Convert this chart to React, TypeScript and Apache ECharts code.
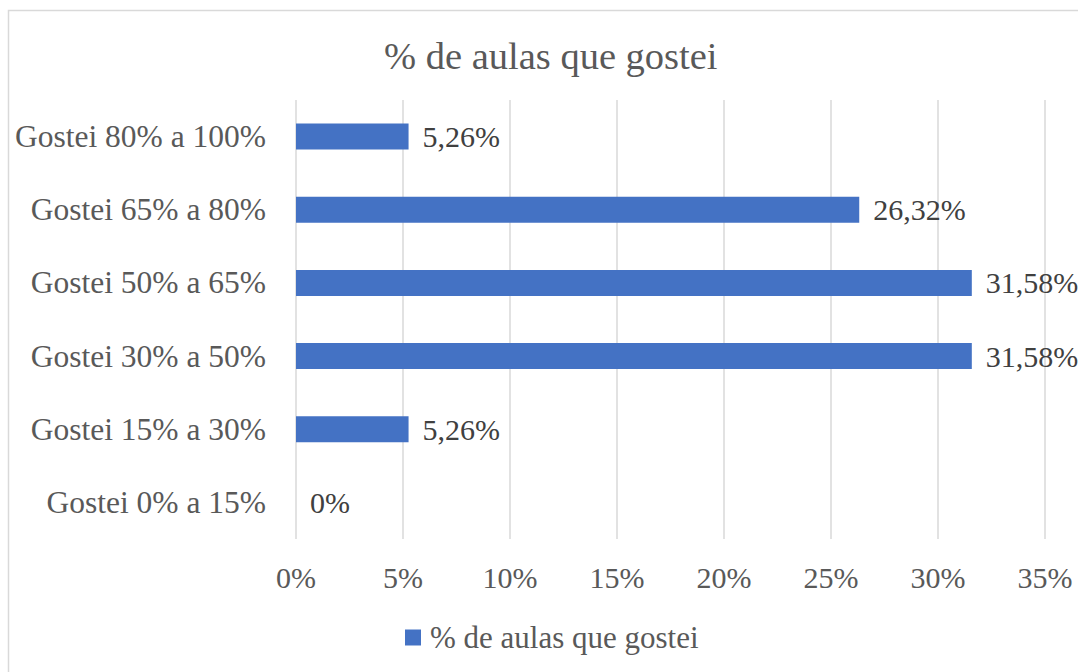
import React, { useEffect, useRef } from "react";
import * as echarts from "echarts";

const categories = [
  "Gostei 0% a 15%",
  "Gostei 15% a 30%",
  "Gostei 30% a 50%",
  "Gostei 50% a 65%",
  "Gostei 65% a 80%",
  "Gostei 80% a 100%",
];
const values = [0, 5.26, 31.58, 31.58, 26.32, 5.26];
const seriesName = "% de aulas que gostei";
const titleText = "% de aulas que gostei";
const axisMin = 0;
const axisMax = 35;
const axisInterval = 5;

const FONT = '"Liberation Serif", "Times New Roman", serif';

export default function App() {
  const ref = useRef<HTMLDivElement>(null);
  useEffect(() => {
    if (!ref.current) return;
    const chart = echarts.init(ref.current, undefined, { renderer: "svg" });
    chart.setOption({
      animation: false,
      backgroundColor: "#ffffff",
      textStyle: { fontFamily: FONT },
      graphic: [
        {
          type: "rect",
          shape: { x: 8.5, y: 10.5, width: 1200, height: 800 },
          style: { fill: "none", stroke: "#d9d9d9", lineWidth: 1.5 },
          silent: true,
          z: 0,
        },
      ],
      title: {
        text: titleText,
        left: 384,
        top: 36,
        padding: 0,
        textStyle: {
          fontFamily: FONT,
          fontSize: 38.5,
          fontWeight: "normal",
          color: "#595959",
        },
      },
      legend: {
        left: 405,
        top: 622,
        padding: 0,
        icon: "rect",
        itemWidth: 16,
        itemHeight: 16,
        itemGap: 10,
        textStyle: { fontFamily: FONT, fontSize: 31, color: "#595959", padding: [0, 0, 0, 4] },
        data: [seriesName],
      },
      grid: { left: 296, right: 33, top: 100, bottom: 133, containLabel: false },
      xAxis: {
        type: "value",
        min: axisMin,
        max: axisMax,
        interval: axisInterval,
        axisLine: { show: false },
        axisTick: { show: false },
        axisLabel: {
          formatter: "{value}%",
          fontFamily: FONT,
          fontSize: 30,
          color: "#595959",
          margin: 23,
        },
        splitLine: { show: true, lineStyle: { color: "#d9d9d9", width: 1.5 } },
      },
      yAxis: {
        type: "category",
        data: categories,
        axisLine: { show: false },
        axisTick: { show: false },
        axisLabel: {
          fontFamily: FONT,
          fontSize: 31.5,
          color: "#595959",
          margin: 30,
        },
        splitLine: { show: false },
      },
      series: [
        {
          name: seriesName,
          type: "bar",
          data: values,
          barWidth: 26,
          itemStyle: { color: "#4472C4" },
          label: {
            show: true,
            position: "right",
            distance: 14,
            fontFamily: FONT,
            fontSize: 30,
            color: "#404040",
            formatter: (p: any) =>
              p.value === 0 ? "0%" : Number(p.value).toFixed(2).replace(".", ",") + "%",
          },
        },
      ],
    });
    return () => chart.dispose();
  }, []);
  return (
    <div
      ref={ref}
      style={{ position: "fixed", left: 0, top: 0, width: 1078, height: 672 }}
    />
  );
}
